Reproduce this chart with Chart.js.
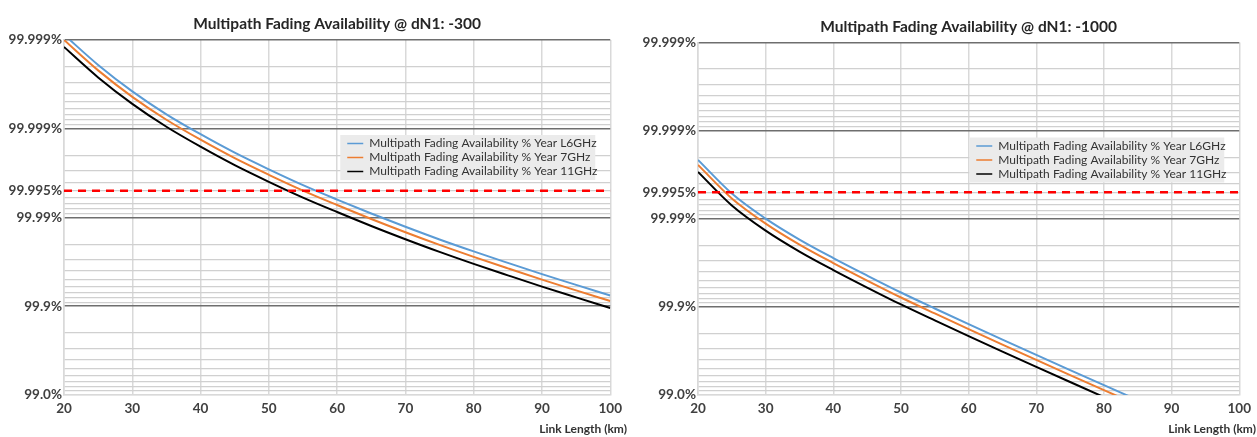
<!DOCTYPE html>
<html>
<head>
<meta charset="utf-8">
<script src="https://cdn.jsdelivr.net/npm/chart.js@4.4.1/dist/chart.umd.min.js"></script>
<style>
  body { margin: 0; background: #ffffff; }
  #wrap { position: relative; width: 1257px; height: 437px; }
  .panel { position: absolute; top: 0; height: 437px; }
</style>
</head>
<body>
<div id="wrap">
  <div class="panel" style="left:0;width:628px"><canvas id="chart300"></canvas></div>
  <div class="panel" style="left:628px;width:629px"><canvas id="chart1000"></canvas></div>
</div>
<script>
'use strict';
// Beginning of data
let seriesLabels = [
  'Multipath Fading Availability % Year L6GHz',
  'Multipath Fading Availability % Year 7GHz',
  'Multipath Fading Availability % Year 11GHz'
];
let seriesColors = ['#5b9bd5', '#ed7d31', '#000000'];

// dN1 = -300, availability % per link length (km)
let km300 = [20, 25, 30, 35, 40, 45, 50, 55, 60, 65, 70, 75, 80, 85, 90, 95, 100];
let avail300L6 = [99.999913, 99.999809, 99.999621, 99.999313, 99.998847, 99.998139, 99.997134, 99.995686, 99.993721, 99.990983, 99.98728, 99.98233, 99.97590, 99.96755, 99.95653, 99.94251, 99.92419];
let avail300G7 = [99.999900, 99.999780, 99.999563, 99.999208, 99.998671, 99.997855, 99.996696, 99.995027, 99.992763, 99.98960, 99.98533, 99.97963, 99.97222, 99.96258, 99.94988, 99.93371, 99.91261];
let avail300G11 = [99.999880, 99.999736, 99.999476, 99.999050, 99.998407, 99.997429, 99.996039, 99.994038, 99.991326, 99.98754, 99.98243, 99.97559, 99.96669, 99.95516, 99.93994, 99.92057, 99.89524];

// dN1 = -1000
let km1000 = [20, 25, 30, 35, 40, 45, 50, 55, 60, 65, 70, 75, 80, 85];
let avail1000L6 = [99.99785, 99.994830, 99.99003, 99.98276, 99.97206, 99.95590, 99.93130, 99.89574, 99.84301, 99.76493, 99.6495, 99.47896, 99.22751, 98.8577];
let avail1000G7 = [99.99755, 99.994109, 99.98864, 99.98035, 99.96817, 99.94976, 99.92174, 99.88120, 99.82110, 99.73199, 99.6005, 99.40639, 99.11996, 98.6987];
let avail1000G11 = [99.99706, 99.992931, 99.98636, 99.97642, 99.96179, 99.93969, 99.90608, 99.85743, 99.78536, 99.67836, 99.5206, 99.28755, 98.9437, 98.4383];

let thresholdAvail = 99.995;
let yTickAvail = [99.9999, 99.999, 99.995, 99.99, 99.9, 99.0];
let yTickLabels = ['99.999%', '99.999%', '99.995%', '99.99%', '99.9%', '99.0%'];
let xMin = 20;
let xMax = 100;
// End of data

// the y axis is a log scale of outage (100 - availability)
function toOutage(a) {
  return +(100 - a).toPrecision(6);
}
let tickOutage = yTickAvail.map(toOutage);
let outageMin = toOutage(yTickAvail[0]);
let outageMax = toOutage(yTickAvail[yTickAvail.length - 1]);

let gridOutage = [];
for (let k = Math.round(Math.log10(outageMin)); k < Math.round(Math.log10(outageMax)); k++) {
  for (let j = 1; j < 10; j++) {
    gridOutage.push(+(j * Math.pow(10, k)).toPrecision(6));
  }
}
gridOutage.push(outageMax);

function isDecade(v) {
  let l = Math.log10(v);
  return Math.abs(l - Math.round(l)) < 1e-6 && v < outageMax;
}

let fontName = 'Lato';

// legend box + x axis title drawn on the canvas
let overlayPlugin = {
  id: 'overlay',
  afterDatasetsDraw(chart) {
    let ctx = chart.ctx;
    let area = chart.chartArea;
    let bw = 255, bh = 45;
    let bx = area.right - 15 - bw;
    let by = area.top + 95;
    ctx.save();
    ctx.fillStyle = '#ebebeb';
    ctx.fillRect(bx, by, bw, bh);
    ctx.font = '12px ' + fontName;
    ctx.textBaseline = 'middle';
    ctx.textAlign = 'left';
    for (let i = 0; i < seriesLabels.length; i++) {
      let y = by + 8.5 + i * 14;
      ctx.strokeStyle = seriesColors[i];
      ctx.lineWidth = 1.5;
      ctx.beginPath();
      ctx.moveTo(bx + 7, y);
      ctx.lineTo(bx + 23, y);
      ctx.stroke();
      ctx.fillStyle = '#333333';
      ctx.fillText(seriesLabels[i], bx + 29, y);
    }
    ctx.font = 'bold 12px ' + fontName;
    ctx.textAlign = 'right';
    ctx.fillStyle = '#333333';
    ctx.fillText('Link Length (km)', chart.width - 1, 429);
    ctx.restore();
  }
};

function renderChart(canvasId, titleText, km, seriesValues, axisWidth, rightPad, titleTop) {
  let datasets = [];
  for (let i = 0; i < seriesValues.length; i++) {
    datasets.push({
      label: seriesLabels[i],
      data: seriesValues[i].map((a, n) => ({ x: km[n], y: toOutage(a) })),
      borderColor: seriesColors[i],
      borderWidth: 2,
      pointRadius: 0,
      cubicInterpolationMode: 'monotone',
      order: 3 - i
    });
  }
  datasets.push({
    label: 'threshold',
    data: [{ x: xMin, y: toOutage(thresholdAvail) }, { x: xMax, y: toOutage(thresholdAvail) }],
    borderColor: '#ff0000',
    borderWidth: 2.5,
    borderDash: [8, 6],
    pointRadius: 0,
    order: 0
  });

  let chartObject = {
    type: 'line',
    data: { datasets: datasets },
    options: {
      responsive: true,
      maintainAspectRatio: false,
      animation: false,
      layout: { padding: { left: 0, right: rightPad, top: 0, bottom: 0 } },
      plugins: {
        legend: { display: false },
        tooltip: { enabled: false },
        title: {
          display: true,
          text: titleText,
          fullSize: false,
          color: '#262626',
          font: { family: fontName, size: 15.5, weight: 'bold' },
          padding: { top: titleTop, bottom: 6.4 }
        }
      },
      scales: {
        x: {
          type: 'linear',
          min: xMin,
          max: xMax,
          afterFit: (scale) => { scale.height = 42; },
          ticks: {
            stepSize: 10,
            padding: 6,
            color: '#404040',
            font: { family: fontName, size: 13.5, weight: 'bold' }
          },
          grid: { color: '#d9d9d9', lineWidth: 1.5, drawTicks: false },
          border: { color: '#d9d9d9', width: 1.5 }
        },
        y: {
          type: 'logarithmic',
          reverse: true,
          min: outageMin,
          max: outageMax,
          afterFit: (scale) => { scale.width = axisWidth; },
          afterBuildTicks: (scale) => {
            scale.ticks = gridOutage.map(v => ({ value: v }));
          },
          ticks: {
            autoSkip: false,
            padding: 2,
            color: '#404040',
            font: { family: fontName, size: 13.5, weight: 'bold' },
            callback: (v) => {
              let idx = tickOutage.findIndex(t => Math.abs(t - v) < t * 1e-6);
              return idx >= 0 ? yTickLabels[idx] : '';
            }
          },
          grid: {
            drawTicks: false,
            color: (c) => isDecade(c.tick.value) ? '#6e6e6e' : '#d0d0d0',
            lineWidth: (c) => isDecade(c.tick.value) ? 1.6 : 1.3
          },
          border: { color: '#d9d9d9', width: 1.5 }
        }
      }
    },
    plugins: [overlayPlugin]
  };
  let ctx = document.getElementById(canvasId).getContext('2d');
  return new Chart(ctx, chartObject);
}

renderChart('chart300', 'Multipath Fading Availability @ dN1: -300', km300,
  [avail300L6, avail300G7, avail300G11], 64, 15, 15);
renderChart('chart1000', 'Multipath Fading Availability @ dN1: -1000', km1000,
  [avail1000L6, avail1000G7, avail1000G11], 70, 14, 17.5);
</script>
</body>
</html>
